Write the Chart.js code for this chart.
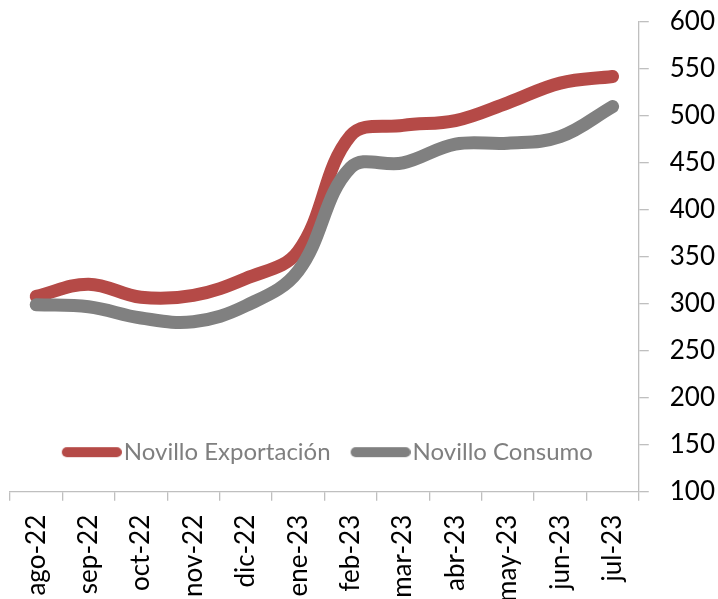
<!DOCTYPE html>
<html>
<head>
<meta charset="utf-8">
<script src="https://cdn.jsdelivr.net/npm/chart.js@4.4.0/dist/chart.umd.min.js"></script>
<style>
  html, body { margin: 0; padding: 0; background: #ffffff; }
  #wrap { width: 718px; height: 599px; }
  canvas { display: block; }
</style>
</head>
<body>
<div id="wrap"><canvas id="chart" width="718" height="599"></canvas></div>
<script>
// ---- data ----
const categories = ['ago-22', 'sep-22', 'oct-22', 'nov-22', 'dic-22', 'ene-23',
                    'feb-23', 'mar-23', 'abr-23', 'may-23', 'jun-23', 'jul-23'];
const exportacion = [308, 321, 307, 309, 327, 356, 479, 490, 495, 514, 535, 542];
const consumo     = [299, 297, 285, 281, 298, 335, 445, 450, 470, 471, 478, 510];
const seriesNames = ['Novillo Exportación', 'Novillo Consumo'];
const yMin = 100;
const yMax = 600;
const yStep = 50;

const RED = '#B54A47';
const GRAY = '#808080';
const AXIS = '#BFBFBF';

// legend symbol: a thick rounded bar, reaching close to the label text
function legendBar(color) {
  const c = document.createElement('canvas');
  c.width = 70; c.height = 12;
  const g = c.getContext('2d');
  g.strokeStyle = color;
  g.lineWidth = 10;
  g.lineCap = 'round';
  g.beginPath();
  g.moveTo(15, 6);
  g.lineTo(65, 6);
  g.stroke();
  return c;
}

// ---- legend drawn inside the plot area ----
const legendInside = {
  id: 'legendInside',
  beforeLayout(chart) {
    const lg = chart.legend;
    if (lg && !lg.__patched) {
      const origFit = lg.fit.bind(lg);
      lg.fit = function () {
        origFit();
        this.__h = this.height;
        this.height = 0;
      };
      lg.__patched = true;
    }
  },
  afterLayout(chart, args, opts) {
    const lg = chart.legend;
    if (!lg) return;
    const a = chart.chartArea;
    const h = lg.__h || 0;
    const cy = a.top + (a.bottom - a.top) * opts.yFrac;
    lg.left = a.left + opts.xShift;
    lg.right = a.right + opts.xShift;
    lg.width = a.right - a.left;
    lg.top = cy - h / 2;
    lg.bottom = lg.top + h;
    lg.height = h;
  }
};

new Chart(document.getElementById('chart'), {
  type: 'line',
  data: {
    labels: categories,
    datasets: [
      {
        label: seriesNames[0],
        data: exportacion,
        borderColor: RED,
        backgroundColor: RED,
        borderWidth: 13,
        borderCapStyle: 'round',
        borderJoinStyle: 'round',
        pointRadius: 0,
        pointHoverRadius: 0,
        tension: 0.38,
        fill: false,
        order: 1
      },
      {
        label: seriesNames[1],
        data: consumo,
        borderColor: GRAY,
        backgroundColor: GRAY,
        borderWidth: 13,
        borderCapStyle: 'round',
        borderJoinStyle: 'round',
        pointRadius: 0,
        pointHoverRadius: 0,
        tension: 0.38,
        fill: false,
        order: 0
      }
    ]
  },
  options: {
    responsive: false,
    animation: false,
    devicePixelRatio: 1,
    layout: { padding: { left: 10, right: -18, top: 22, bottom: -17 } },
    font: { family: 'Lato' },
    plugins: {
      tooltip: { enabled: false },
      legendInside: { yFrac: 0.905, xShift: 3 },
      legend: {
        display: true,
        position: 'top',
        align: 'center',
        labels: {
          usePointStyle: true,
          pointStyleWidth: 50,
          padding: 20,
          color: '#7F7F7F',
          font: { family: 'Lato', size: 24 },
          sort: (a, b) => a.datasetIndex - b.datasetIndex,
          generateLabels(chart) {
            const items = Chart.defaults.plugins.legend.labels.generateLabels(chart);
            items.forEach(it => {
              it.lineWidth = 10;
              it.pointStyle = legendBar(it.strokeStyle);
            });
            return items;
          }
        }
      }
    },
    scales: {
      x: {
        type: 'category',
        offset: true,
        grid: {
          offset: true,
          drawOnChartArea: false,
          drawTicks: true,
          tickLength: 9,
          color: AXIS,
          lineWidth: 1.3
        },
        border: { display: true, color: AXIS, width: 1.3 },
        ticks: {
          autoSkip: false,
          maxRotation: 90,
          minRotation: 90,
          padding: 14,
          color: '#000000',
          font: { family: 'Lato', size: 26 }
        }
      },
      y: {
        position: 'right',
        min: yMin,
        max: yMax,
        afterFit(scale) {
          scale.paddingTop = 0;
          scale.paddingBottom = 0;
        },
        grid: {
          drawOnChartArea: false,
          drawTicks: true,
          tickLength: 10,
          color: AXIS,
          lineWidth: 1.3
        },
        border: { display: true, color: AXIS, width: 1.3 },
        ticks: {
          stepSize: yStep,
          padding: 21,
          color: '#000000',
          font: { family: 'Lato', size: 26 }
        }
      }
    }
  },
  plugins: [legendInside]
});
</script>
</body>
</html>
